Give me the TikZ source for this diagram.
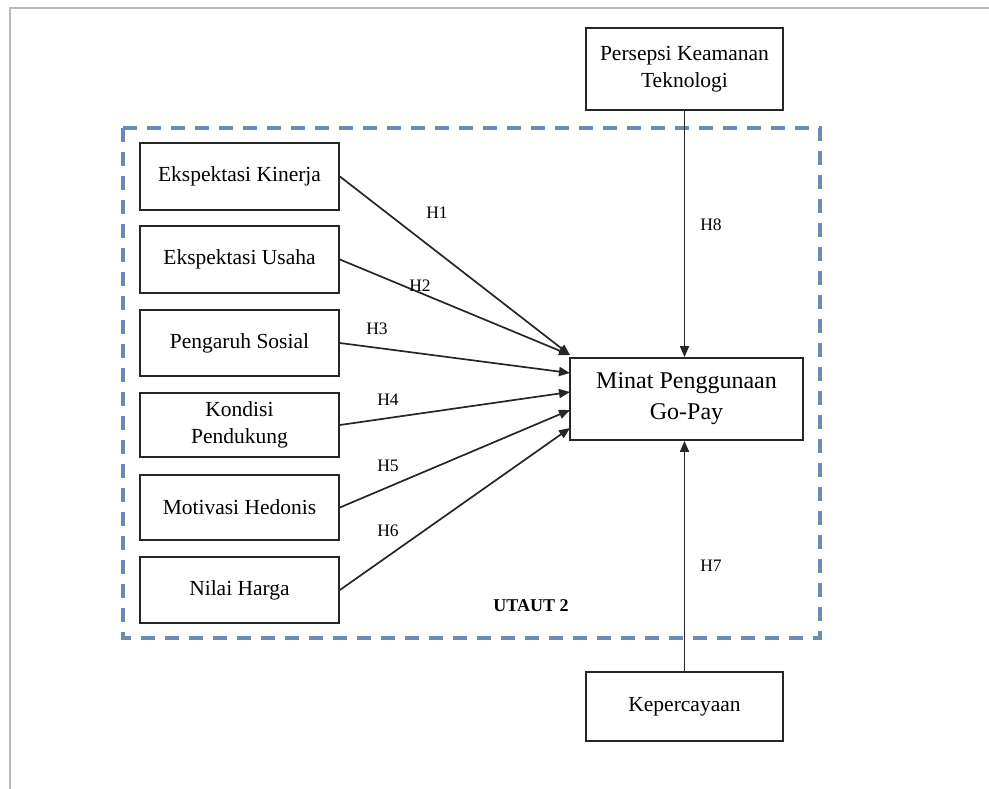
\documentclass[tikz,border=0pt]{standalone}
\usepackage{fontspec}
\setmainfont{Liberation Serif}
\usetikzlibrary{arrows.meta}
\definecolor{dashblue}{RGB}{104,140,178}
\definecolor{framegray}{RGB}{185,185,185}
\tikzset{
  box/.style={draw=black!85, line width=1.8pt, inner sep=0pt, align=center, font=\fontsize{21.5}{27}\selectfont},
  conn/.style={draw=black!85, line width=1.7pt, -{Triangle[length=11pt,width=9pt]}},
  hlab/.style={font=\fontsize{17.5}{19}\selectfont, inner sep=0pt},
}
\begin{document}
\begin{tikzpicture}[x=1pt,y=-1pt]
\useasboundingbox (0,0) rectangle (989,789);
\draw[framegray, line width=2pt] (9.5,789) -- (9.5,8.5) -- (989,8.5);
\draw[dashblue, line width=3.8pt, dash pattern=on 14pt off 10pt] (123,128) rectangle (820,638);

\node[box, minimum width=197pt, minimum height=82pt] (P) at (684.5,69) {Persepsi Keamanan\\Teknologi};
\node[box, minimum width=233pt, minimum height=82pt, font=\fontsize{24}{31}\selectfont] (M) at (686.5,399) {Minat Penggunaan\\Go-Pay};
\node[box, minimum width=197pt, minimum height=69pt] (K) at (684.5,706.5) {Kepercayaan};

\node[box, minimum width=199pt, minimum height=67pt] (L1) at (239.5,176.5) {Ekspektasi Kinerja};
\node[box, minimum width=199pt, minimum height=67pt] (L2) at (239.5,259.5) {Ekspektasi Usaha};
\node[box, minimum width=199pt, minimum height=66pt] (L3) at (239.5,343) {Pengaruh Sosial};
\node[box, minimum width=199pt, minimum height=64pt] (L4) at (239.5,425) {Kondisi\\Pendukung};
\node[box, minimum width=199pt, minimum height=65pt] (L5) at (239.5,507.5) {Motivasi Hedonis};
\node[box, minimum width=199pt, minimum height=66pt] (L6) at (239.5,590) {Nilai Harga};

\coordinate (t1) at (570,355);
\coordinate (t3) at (570,373);
\coordinate (t4) at (570,392);
\coordinate (t5) at (570,410);
\coordinate (t6) at (570,428);

\draw[conn] (L1.east) -- (t1);
\draw[conn] (L2.east) -- (t1);
\draw[conn] (L3.east) -- (t3);
\draw[conn] (L4.east) -- (t4);
\draw[conn] (L5.east) -- (t5);
\draw[conn] (L6.east) -- (t6);
\draw[conn] (P.south) -- (P.south |- M.north);
\draw[conn] (K.north) -- (K.north |- M.south);

\node[hlab] (h1) at (437,213) {H1};
\node[hlab] (h2) at (420,286) {H2};
\node[hlab] (h3) at (377,329) {H3};
\node[hlab] (h4) at (388,400) {H4};
\node[hlab] (h5) at (388,466) {H5};
\node[hlab] (h6) at (388,531) {H6};
\node[hlab] (h8) at (711,225) {H8};
\node[hlab] (h7) at (711,566) {H7};
\node[hlab, font=\bfseries\fontsize{18}{20}\selectfont] (ut) at (531,606) {UTAUT 2};
\end{tikzpicture}
\end{document}
